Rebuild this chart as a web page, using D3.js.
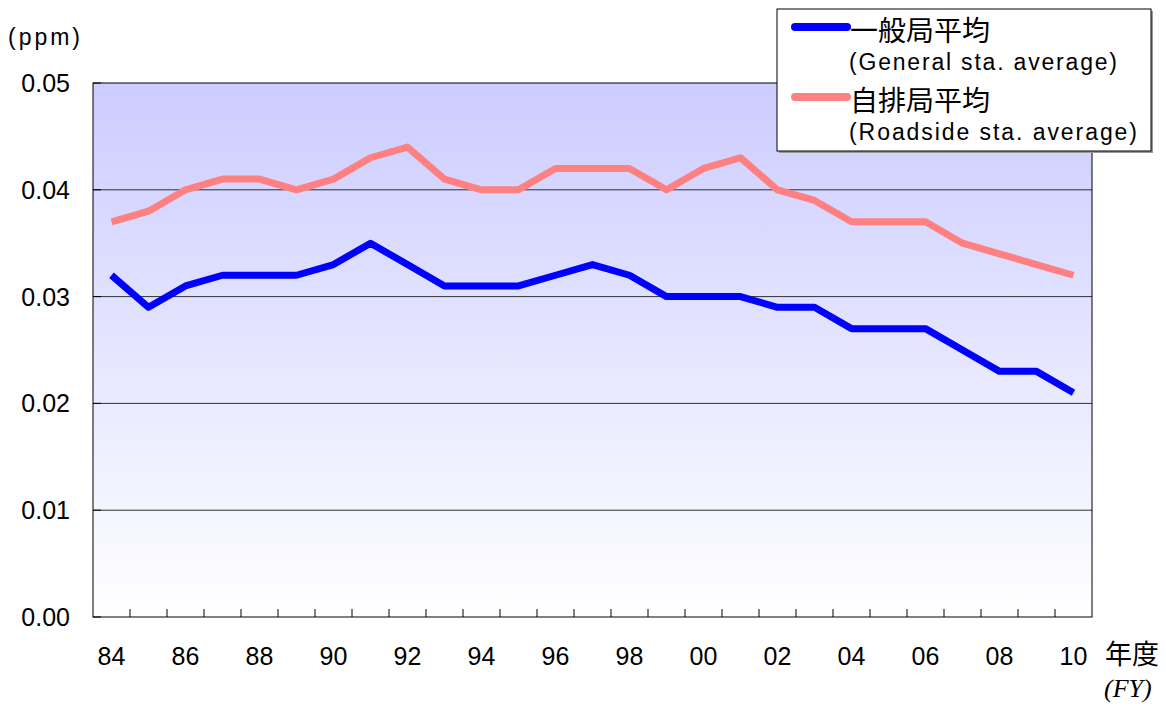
<!DOCTYPE html>
<html>
<head>
<meta charset="utf-8">
<script src="https://cdn.jsdelivr.net/npm/d3@7"></script>
<style>
  body { margin: 0; background: #fff; }
  svg { display: block; }
</style>
</head>
<body>
<div id="chart"></div>
<script>
// Fiscal years (labels)
var years = ["84","85","86","87","88","89","90","91","92","93","94","95","96","97","98","99",
             "00","01","02","03","04","05","06","07","08","09","10"];
// 一般局平均 (ppm)
var general = [0.032,0.029,0.031,0.032,0.032,0.032,0.033,0.035,0.033,0.031,0.031,0.031,0.032,0.033,
               0.032,0.030,0.030,0.030,0.029,0.029,0.027,0.027,0.027,0.025,0.023,0.023,0.021];
// 自排局平均 (ppm)
var roadside = [0.037,0.038,0.040,0.041,0.041,0.040,0.041,0.043,0.044,0.041,0.040,0.040,0.042,0.042,
                0.042,0.040,0.042,0.043,0.040,0.039,0.037,0.037,0.037,0.035,0.034,0.033,0.032];
var yTicks = [0, 0.01, 0.02, 0.03, 0.04, 0.05];
var xLabelYears = ["84","86","88","90","92","94","96","98","00","02","04","06","08","10"];

var W = 1166, H = 706;
var margin = {top: 83, left: 93, right: 74, bottom: 89};
var width = W - margin.left - margin.right,   // 999
    height = H - margin.top - margin.bottom;  // 534

var svg = d3.select("#chart").append("svg")
    .attr("width", W)
    .attr("height", H);

// background gradient
var defs = svg.append("defs");
var grad = defs.append("linearGradient")
    .attr("id", "bg")
    .attr("x1", 0).attr("y1", 0).attr("x2", 0).attr("y2", 1);
grad.append("stop").attr("offset", "0%").attr("stop-color", "#ccccff");
grad.append("stop").attr("offset", "100%").attr("stop-color", "#ffffff");

var g = svg.append("g")
    .attr("transform", `translate(${margin.left},${margin.top})`);

var x = d3.scaleBand()
    .domain(years)
    .range([0, width]);

var y = d3.scaleLinear()
    .domain([0, 0.05])
    .range([height, 0]);

g.append("rect")
    .attr("width", width)
    .attr("height", height)
    .attr("fill", "url(#bg)");

// grid lines
g.selectAll(".grid")
    .data(yTicks.slice(1, -1))
    .join("line")
    .attr("class", "grid")
    .attr("x1", 0).attr("x2", width)
    .attr("y1", d => y(d)).attr("y2", d => y(d))
    .attr("stroke", "#000")
    .attr("stroke-width", 0.8);

// frame
g.append("rect")
    .attr("width", width)
    .attr("height", height)
    .attr("fill", "none")
    .attr("stroke", "#000")
    .attr("stroke-width", 1);

// x ticks (between categories, pointing up)
g.selectAll(".xtick")
    .data(years.slice(1))
    .join("line")
    .attr("class", "xtick")
    .attr("x1", d => x(d)).attr("x2", d => x(d))
    .attr("y1", height).attr("y2", height - 8)
    .attr("stroke", "#000");

// y ticks inward
g.selectAll(".ytick")
    .data(yTicks)
    .join("line")
    .attr("class", "ytick")
    .attr("x1", 0).attr("x2", 8)
    .attr("y1", d => y(d)).attr("y2", d => y(d))
    .attr("stroke", "#000");

// y labels
g.selectAll(".ylab")
    .data(yTicks)
    .join("text")
    .attr("class", "ylab")
    .attr("x", -23)
    .attr("y", d => y(d) + 9)
    .attr("text-anchor", "end")
    .attr("font-family", "Liberation Sans, Arial, sans-serif")
    .attr("font-size", "25px")
    .text(d => d.toFixed(2));

// x labels
g.selectAll(".xlab")
    .data(xLabelYears)
    .join("text")
    .attr("class", "xlab")
    .attr("x", d => x(d) + x.bandwidth() / 2)
    .attr("y", height + 48)
    .attr("text-anchor", "middle")
    .attr("font-family", "Liberation Sans, Arial, sans-serif")
    .attr("font-size", "25px")
    .text(d => d);

// unit labels
svg.append("text")
    .attr("x", 8).attr("y", 45)
    .attr("font-family", "Liberation Sans, Arial, sans-serif")
    .attr("font-size", "23px")
    .attr("textLength", 72)
    .attr("lengthAdjust", "spacing")
    .text("(ppm)");

svg.append("text")
    .attr("x", 1105).attr("y", 664)
    .attr("font-family", "Noto Sans CJK JP, sans-serif")
    .attr("font-size", "27px")
    .text("年度");

svg.append("text")
    .attr("x", 1104).attr("y", 697)
    .attr("font-family", "Liberation Serif, Times New Roman, serif")
    .attr("font-style", "italic")
    .attr("font-size", "26px")
    .text("(FY)");

// lines
var line = d3.line()
    .x((d, i) => x(years[i]) + x.bandwidth() / 2)
    .y(d => y(d));

g.append("path")
    .datum(roadside)
    .attr("d", line)
    .attr("fill", "none")
    .attr("stroke", "#ff8080")
    .attr("stroke-width", 7)
    .attr("stroke-linejoin", "round");

g.append("path")
    .datum(general)
    .attr("d", line)
    .attr("fill", "none")
    .attr("stroke", "#0000ff")
    .attr("stroke-width", 7)
    .attr("stroke-linejoin", "round");

// legend
var legend = svg.append("g").attr("transform", "translate(777,9)");
legend.append("rect")
    .attr("x", 2).attr("y", 2)
    .attr("width", 374).attr("height", 142)
    .attr("fill", "#999");
legend.append("rect")
    .attr("width", 374).attr("height", 142)
    .attr("fill", "#fff")
    .attr("stroke", "#000");

var series = [
    {jp: "一般局平均", en: "(General sta. average)", enLen: 268, color: "#0000ff"},
    {jp: "自排局平均", en: "(Roadside sta. average)", enLen: 288, color: "#ff8080"}
];
var items = legend.selectAll(".item")
    .data(series)
    .join("g")
    .attr("class", "item")
    .attr("transform", (d, i) => `translate(0,${i * 70})`);

items.append("line")
    .attr("x1", 18).attr("x2", 70)
    .attr("y1", 18).attr("y2", 18)
    .attr("stroke", d => d.color)
    .attr("stroke-width", 8)
    .attr("stroke-linecap", "round");

items.append("text")
    .attr("x", 73).attr("y", 32)
    .attr("font-family", "Noto Sans CJK JP, sans-serif")
    .attr("font-size", "28px")
    .text(d => d.jp);

items.append("text")
    .attr("x", 72).attr("y", 61)
    .attr("font-family", "Liberation Sans, Arial, sans-serif")
    .attr("font-size", "23px")
    .attr("textLength", d => d.enLen)
    .attr("lengthAdjust", "spacing")
    .text(d => d.en);
</script>
</body>
</html>
